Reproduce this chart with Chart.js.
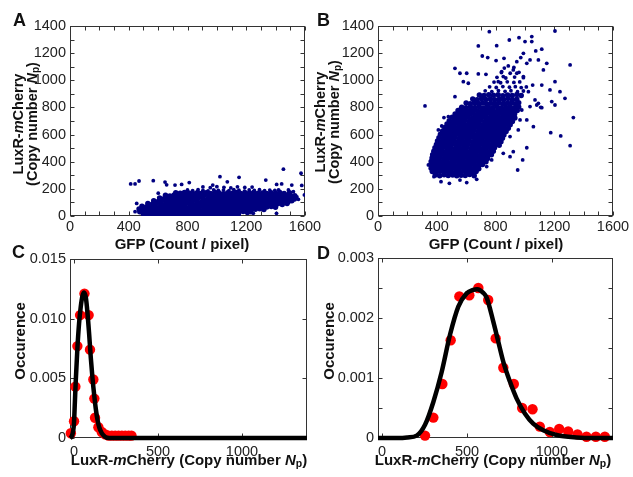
<!DOCTYPE html>
<html><head><meta charset="utf-8">
<script src="https://cdn.jsdelivr.net/npm/chart.js@4.4.1/dist/chart.umd.min.js"></script>
<style>
html,body{margin:0;padding:0;background:#fff;width:633px;height:477px;overflow:hidden;position:relative;font-family:"Liberation Sans",Arial,sans-serif;color:#111}
canvas{position:absolute;left:0;top:0}
.pl{position:absolute;font-weight:bold;font-size:18px;line-height:18px}
.yt{position:absolute;transform:translate(-50%,-50%) rotate(-90deg);white-space:nowrap;text-align:center;font-weight:bold;font-size:14.5px;line-height:13.5px}
.xt{position:absolute;transform:translate(-50%,-50%);white-space:nowrap;font-weight:bold;font-size:15px;line-height:17px}
sub{font-size:70%;line-height:0;vertical-align:-0.25em}
</style></head><body>
<canvas id="cA" width="633" height="477"></canvas>
<canvas id="cB" width="633" height="477"></canvas>
<canvas id="cC" width="633" height="477"></canvas>
<canvas id="cD" width="633" height="477"></canvas>

<div class="pl" style="left:13px;top:11px">A</div>
<div class="pl" style="left:317px;top:11px">B</div>
<div class="pl" style="left:12px;top:243px">C</div>
<div class="pl" style="left:317px;top:244px">D</div>

<div class="yt" style="left:25px;top:124px">LuxR-<i>m</i>Cherry<br>(Copy number <i>N</i><sub>p</sub>)</div>
<div class="yt" style="left:327px;top:122px">LuxR-<i>m</i>Cherry<br>(Copy number <i>N</i><sub>p</sub>)</div>
<div class="yt" style="left:20px;top:341px;font-size:15px">Occurence</div>
<div class="yt" style="left:329px;top:341px;font-size:15px">Occurence</div>

<div class="xt" style="left:182px;top:243px">GFP (Count / pixel)</div>
<div class="xt" style="left:496px;top:243px">GFP (Count / pixel)</div>
<div class="xt" style="left:189px;top:459px">LuxR-<i>m</i>Cherry (Copy number <i>N</i><sub>p</sub>)</div>
<div class="xt" style="left:493px;top:459px">LuxR-<i>m</i>Cherry (Copy number <i>N</i><sub>p</sub>)</div>

<script>
// ---------------- DATA ----------------
const scatterXLabels = [0, 400, 800, 1200, 1600];
const scatterYLabels = [0, 200, 400, 600, 800, 1000, 1200, 1400];
const histXLabels = [0, 500, 1000];
const histCYLabels = [0, 0.005, 0.010, 0.015];
const histDYLabels = [0, 0.001, 0.002, 0.003];

// Panel A: GFP vs LuxR-mCherry, dense body of cells
const scatterACore = [
[500,12],[530,7],[559,14],[588,9],[618,5],[647,13],[676,8],[706,11],[735,6],[764,15],[794,10],[823,4],[852,12],[882,8],[911,14],[940,6],[970,11],[999,9],[1028,13],[1058,7],[1087,10],[1116,5],[1146,12],
[475,32],[504,27],[533,34],[563,29],[592,25],[621,33],[651,28],[680,31],[709,26],[739,35],[768,30],[797,24],[827,32],[856,28],[885,34],[915,26],[944,31],[973,29],[1003,33],[1032,27],[1061,30],[1091,25],[1120,32],[1149,28],[1179,34],[1208,26],[1232,31],
[470,52],[499,47],[528,54],[558,49],[587,45],[616,53],[646,48],[675,51],[704,46],[734,55],[763,50],[792,44],[822,52],[851,48],[880,54],[910,46],[939,51],[968,49],[998,53],[1027,47],[1056,50],[1086,45],[1115,52],[1144,48],[1174,54],[1203,46],[1232,51],[1262,49],[1291,53],[1320,47],
[490,72],[519,67],[548,74],[578,69],[607,65],[636,73],[666,68],[695,71],[724,66],[754,75],[783,70],[812,64],[842,72],[871,68],[900,74],[930,66],[959,71],[988,69],[1018,73],[1047,67],[1076,70],[1106,65],[1135,72],[1164,68],[1194,74],[1223,66],[1252,71],[1282,69],[1311,73],[1340,67],[1370,70],[1399,65],
[530,92],[560,87],[589,94],[619,89],[648,85],[678,93],[707,88],[737,91],[766,86],[796,95],[825,90],[855,84],[884,92],[914,88],[943,94],[973,86],[1002,91],[1032,89],[1061,93],[1091,87],[1120,90],[1150,85],[1179,92],[1209,88],[1238,94],[1268,86],[1297,91],[1327,89],[1356,93],[1386,87],[1415,90],[1445,85],[1478,92],
[570,112],[600,107],[629,114],[659,109],[688,105],[718,113],[747,108],[777,111],[806,106],[836,115],[865,110],[895,104],[924,112],[954,108],[983,114],[1013,106],[1042,111],[1072,109],[1101,113],[1131,107],[1160,110],[1190,105],[1219,112],[1249,108],[1278,114],[1308,106],[1337,111],[1367,109],[1396,113],[1426,107],[1455,110],[1485,105],[1510,112],
[610,132],[640,127],[669,134],[699,129],[728,125],[758,133],[787,128],[817,131],[846,126],[876,135],[905,130],[935,124],[964,132],[994,128],[1023,134],[1053,126],[1082,131],[1112,129],[1141,133],[1171,127],[1200,130],[1230,125],[1259,132],[1289,128],[1318,134],[1348,126],[1377,131],[1407,129],[1436,133],[1466,127],[1495,130],[1528,125],
[650,152],[680,147],[709,154],[739,149],[768,145],[798,153],[827,148],[857,151],[886,146],[916,155],[945,150],[975,144],[1004,152],[1034,148],[1063,154],[1093,146],[1122,151],[1152,149],[1181,153],[1211,147],[1240,150],[1270,145],[1299,152],[1329,148],[1358,154],[1388,146],[1417,151],[1447,149],[1476,153],[1506,147],[1530,150],
[720,172],[750,167],[779,174],[809,169],[838,165],[868,173],[897,168],[927,171],[956,166],[986,175],[1015,170],[1045,164],[1074,172],[1104,168],[1133,174],[1163,166],[1192,171],[1222,169],[1251,173],[1281,167],[1310,170],[1340,165],[1369,172],[1399,168],[1428,174],[1458,166],[1495,171]
];
// Panel A: scattered cells around the body
const scatterASparse = [
[800,192],[835,187],[872,194],[905,189],[940,185],[978,193],[1010,188],[1045,191],[1082,186],[1115,195],[1150,190],[1188,184],[1220,192],[1255,188],[1290,194],[1325,186],[1360,191],[1395,189],[1420,193],
[905,214],[955,209],[1000,216],[1048,211],[1095,207],[1140,215],[1190,210],[1240,213],
[413,236],[443,236],[470,258],[567,260],[647,250],[658,230],[715,228],[760,233],[812,246],[972,228],[1021,290],[1071,252],[1151,285],[1333,265],[1407,233],[1441,236],[1453,345],[1510,228],[1573,315],[1578,225],[1487,192],[1521,179],[1596,155],[1555,123],[1521,123],[1545,140],[601,168],[454,93],[443,32],[1248,20],[1406,20]
];

// Panel B: GFP vs LuxR-mCherry, dense body of cells
const scatterBCore = [
[390,302],[420,297],[450,304],[478,299],[508,303],[536,296],[566,301],[594,298],[624,305],[655,297],
[370,327],[397,322],[424,329],[451,324],[478,328],[505,321],[532,326],[560,323],[587,330],[614,322],[641,325],[668,328],
[362,352],[389,347],[416,354],[443,349],[470,353],[497,346],[524,351],[551,348],[578,355],[605,347],[632,350],[659,353],[686,348],
[360,377],[387,372],[414,379],[441,374],[468,378],[495,371],[522,376],[549,373],[576,380],[603,372],[630,375],[657,378],[684,373],[711,379],
[362,402],[389,397],[416,404],[443,399],[470,403],[497,396],[524,401],[551,398],[578,405],[605,397],[632,400],[659,403],[686,398],[713,404],[735,399],
[368,427],[395,422],[422,429],[449,424],[476,428],[503,421],[530,426],[557,423],[584,430],[611,422],[638,425],[665,428],[692,423],[719,429],[746,424],
[372,452],[399,447],[426,454],[453,449],[480,453],[507,446],[534,451],[561,448],[588,455],[615,447],[642,450],[669,453],[696,448],[723,454],[750,449],[772,452],
[380,477],[407,472],[434,479],[461,474],[488,478],[515,471],[542,476],[569,473],[596,480],[623,472],[650,475],[677,478],[704,473],[731,479],[758,474],[785,477],
[388,502],[415,497],[442,504],[469,499],[496,503],[523,496],[550,501],[577,498],[604,505],[631,497],[658,500],[685,503],[712,498],[739,504],[766,499],[793,502],
[398,527],[425,522],[452,529],[479,524],[506,528],[533,521],[560,526],[587,523],[614,530],[641,522],[668,525],[695,528],[722,523],[749,529],[776,524],[803,527],[825,522],
[405,552],[432,547],[459,554],[486,549],[513,553],[540,546],[567,551],[594,548],[621,555],[648,547],[675,550],[702,553],[729,548],[756,554],[783,549],[810,552],[837,547],
[415,577],[442,572],[469,579],[496,574],[523,578],[550,571],[577,576],[604,573],[631,580],[658,572],[685,575],[712,578],[739,573],[766,579],[793,574],[820,577],[847,572],
[425,602],[452,597],[479,604],[506,599],[533,603],[560,596],[587,601],[614,598],[641,605],[668,597],[695,600],[722,603],[749,598],[776,604],[803,599],[830,602],[857,597],
[440,627],[467,622],[494,629],[521,624],[548,628],[575,621],[602,626],[629,623],[656,630],[683,622],[710,625],[737,628],[764,623],[791,629],[818,624],[845,627],[872,622],
[455,652],[482,647],[509,654],[536,649],[563,653],[590,646],[617,651],[644,648],[671,655],[698,647],[725,650],[752,653],[779,648],[806,654],[833,649],[860,652],[887,647],
[470,677],[497,672],[524,679],[551,674],[578,678],[605,671],[632,676],[659,673],[686,680],[713,672],[740,675],[767,678],[794,673],[821,679],[848,674],[875,677],[900,672],
[485,702],[512,697],[539,704],[566,699],[593,703],[620,696],[647,701],[674,698],[701,705],[728,697],[755,700],[782,703],[809,698],[836,704],[863,699],[890,702],[915,697],
[505,727],[532,722],[559,729],[586,724],[613,728],[640,721],[667,726],[694,723],[721,730],[748,722],[775,725],[802,728],[829,723],[856,729],[883,724],[910,727],[932,722],
[525,752],[552,747],[579,754],[606,749],[633,753],[660,746],[687,751],[714,748],[741,755],[768,747],[795,750],[822,753],[849,748],[876,754],[903,749],[930,752],
[545,777],[572,772],[599,779],[626,774],[653,778],[680,771],[707,776],[734,773],[761,780],[788,772],[815,775],[842,778],[869,773],[896,779],[923,774],[948,777],
[570,802],[600,797],[630,804],[660,799],[690,803],[720,796],[750,801],[780,798],[810,805],[840,797],[870,800],[900,803],[930,798],[958,804],
[600,832],[628,827],[656,834],[684,829],[712,833],[740,826],[768,831],[796,828],[824,835],[852,827],[880,830],[908,833],[936,828],[958,834],
[645,862],[675,857],[705,864],[735,859],[765,863],[795,856],[825,861],[855,858],[885,865],[915,857],[945,860],
[690,892],[722,887],[754,894],[786,889],[818,893],[850,886],[882,891],[914,888],[946,895],[975,887]
];
// Panel B: scattered cells around the body
const scatterBSparse = [
[730,922],[775,917],[820,924],[865,919],[905,923],[950,916],[990,921],
[760,952],[805,947],[850,954],[895,949],[935,953],[975,946],[1010,951],
[790,987],[835,982],[880,989],[925,984],[965,988],
[810,1022],[870,1017],[930,1024],[990,1019],
[840,1057],[900,1052],[960,1059],
[860,1090],[925,1095],
[320,811],[758,1358],[1205,1363],[1308,1113],[1330,725],[1308,518],[1244,590],[1176,614],[951,339],[985,413],[1013,503],[683,1253],[808,1255],[894,1297],[960,1314],[1001,1285],[1047,1322],[1047,1285],[990,1199],[1074,1216],[1115,1229],[710,1179],[747,1167],[804,1145],[858,1162],[524,1088],[558,1052],[604,1052],[683,1047],[735,1044],[1149,1125],[1205,990],[1126,1076],[1171,929],[1239,916],[1273,867],[1183,843],[1205,818],[1108,801],[1092,830],[1069,855],[1115,965],[1053,965],[1024,916],[581,990],[615,978],[524,879],[554,786],[449,725],[479,732],[411,634],[434,663],[343,376],[366,327],[381,290],[429,253],[486,241],[558,265],[604,246],[672,270],[740,364],[774,413],[853,462],[899,437],[921,474],[899,585],[955,634],[1013,708],[1058,658],[967,708],[979,781],[1035,806],[1081,818],[1115,798],[819,990],[853,1027],[945,1052],[990,1027],[921,1076],[887,1106],[842,1064],[945,1137],[1013,1125],[972,1167],[1035,1150],[1092,1150]
];

// Panel C: histogram (red) and fit (black)
const histCPointsX = [-19, 0, 8, 20, 36, 62, 87, 95, 115, 121, 125, 145, 165, 185, 205, 225, 245, 265, 285, 305, 325, 342];
const histCPointsY = [0.0004, 0.0014, 0.0043, 0.0077, 0.0103, 0.0121, 0.0103, 0.0074, 0.0049, 0.0033, 0.0017, 0.0009, 0.0005, 0.0003, 0.0002, 0.0002, 0.0002, 0.0002, 0.0002, 0.0002, 0.0002, 0.0002];
const histCCurveX = [-24, -15, -5, 0, 5, 10, 20, 30, 40, 50, 60, 70, 80, 90, 100, 110, 120, 130, 140, 150, 165, 185, 210, 300, 600, 1000, 1387];
const histCCurveY = [0, 0.0001, 0.0006, 0.0013, 0.0030, 0.0047, 0.0075, 0.0096, 0.0110, 0.0119, 0.0122, 0.0118, 0.0105, 0.0087, 0.0067, 0.0050, 0.0036, 0.0024, 0.0015, 0.0009, 0.0004, 0.0001, 0, 0, 0, 0, 0];

// Panel D: histogram (red) and fit (black)
const histDPointsX = [253, 302, 355, 404, 455, 514, 567, 625, 669, 714, 776, 825, 886, 929, 988, 1043, 1096, 1151, 1204, 1259, 1312];
const histDPointsY = [0.00004, 0.00034, 0.00090, 0.00163, 0.00236, 0.00238, 0.00250, 0.00230, 0.00166, 0.00117, 0.00090, 0.00050, 0.00048, 0.00019, 0.00010, 0.00015, 0.00011, 0.00006, 0.00002, 0.00002, 0.00002];
const histDCurveX = [-24, 100, 150, 204, 253, 302, 351, 400, 449, 498, 537, 560, 596, 616, 655, 684, 714, 753, 792, 841, 890, 949, 1028, 1145, 1250, 1360];
const histDCurveY = [0, 0, 0.00001, 0.00004, 0.00022, 0.00060, 0.00110, 0.00172, 0.00219, 0.00241, 0.00247, 0.00248, 0.00242, 0.00234, 0.00194, 0.00161, 0.00127, 0.00094, 0.00066, 0.00041, 0.00024, 0.00013, 0.00005, 0.00001, 0, 0];

// ---------------- RENDERING ----------------
const FONT = '"Liberation Sans", Arial, sans-serif';
const YW = 50, XH = 30;
const NAVY = 'rgb(0,0,128)';

function steps(a, b, s) { const r = []; for (let i = 0; a + i * s <= b + 1e-12; i++) r.push(+(a + i * s).toFixed(6)); return r; }

const frameTicks = {
  id: 'frameTicks',
  beforeDatasetsDraw(chart, args, opts) {
    const { ctx, chartArea: a } = chart;
    const sx = chart.scales.x, sy = chart.scales.y;
    const L = Math.round(a.left) + 0.5, R = Math.round(a.right) - 0.5;
    const T = Math.round(a.top) + 0.5, B = Math.round(a.bottom) - 0.5;
    ctx.save();
    ctx.strokeStyle = '#333';
    ctx.lineWidth = 1;
    ctx.beginPath();
    (opts.xMarks || []).forEach(v => {
      const p = Math.round(sx.getPixelForValue(v)) + 0.5;
      ctx.moveTo(p, B); ctx.lineTo(p, B - 4);
      ctx.moveTo(p, T); ctx.lineTo(p, T + 4);
    });
    (opts.yMarks || []).forEach(v => {
      const p = Math.round(sy.getPixelForValue(v)) + 0.5;
      ctx.moveTo(L, p); ctx.lineTo(L + 4, p);
      ctx.moveTo(R, p); ctx.lineTo(R - 4, p);
    });
    ctx.stroke();
    ctx.strokeRect(L, T, R - L, B - T);
    ctx.restore();
  }
};

function fmtHist(v) { return v === 0 ? '0' : v.toFixed(3); }

function build(id, box, xc, yc, datasets) {
  return new Chart(document.getElementById(id), {
    type: 'scatter',
    data: { datasets },
    options: {
      responsive: false, animation: false, events: [],
      layout: { padding: { left: box.left - YW, top: box.top, right: 633 - box.right, bottom: 477 - box.bottom - XH } },
      plugins: { legend: { display: false }, tooltip: { enabled: false }, frameTicks: { xMarks: xc.marks, yMarks: yc.marks } },
      scales: {
        x: {
          type: 'linear', min: xc.min, max: xc.max,
          grid: { display: false, drawTicks: false }, border: { display: false },
          ticks: { font: { family: FONT, size: 14.5 }, color: '#222', padding: xc.pad, maxRotation: 0, autoSkip: false, callback: xc.fmt },
          afterBuildTicks: s => { s.ticks = xc.labels.map(v => ({ value: v })); },
          afterFit: s => { s.height = XH; }
        },
        y: {
          type: 'linear', min: yc.min, max: yc.max,
          grid: { display: false, drawTicks: false }, border: { display: false },
          ticks: { font: { family: FONT, size: 14.5 }, color: '#222', padding: 4, autoSkip: false, callback: yc.fmt },
          afterBuildTicks: s => { s.ticks = yc.labels.map(v => ({ value: v })); },
          afterFit: s => { s.width = YW; }
        }
      }
    },
    plugins: [frameTicks]
  });
}

const toPts = arr => arr.map(p => ({ x: p[0], y: p[1] }));
const zipPts = (xs, ys) => xs.map((x, i) => ({ x, y: ys[i] }));
const plainFmt = v => String(v);

function scatterSets(core, sparse) {
  return [
    { label: 'body', data: toPts(core), pointRadius: 2.75, pointHoverRadius: 2.75, pointBackgroundColor: NAVY, pointBorderWidth: 0, showLine: false },
    { label: 'scattered', data: toPts(sparse), pointRadius: 1.9, pointHoverRadius: 1.9, pointBackgroundColor: NAVY, pointBorderWidth: 0, showLine: false }
  ];
}

build('cA', { left: 70, top: 26, right: 305, bottom: 216 },
  { min: 0, max: 1600, labels: scatterXLabels, marks: steps(0, 1600, 100), pad: 2, fmt: plainFmt },
  { min: 0, max: 1400, labels: scatterYLabels, marks: steps(0, 1400, 100), fmt: plainFmt },
  scatterSets(scatterACore, scatterASparse));

build('cB', { left: 378, top: 26, right: 613, bottom: 216 },
  { min: 0, max: 1600, labels: scatterXLabels, marks: steps(0, 1600, 100), pad: 2, fmt: plainFmt },
  { min: 0, max: 1400, labels: scatterYLabels, marks: steps(0, 1400, 100), fmt: plainFmt },
  scatterSets(scatterBCore, scatterBSparse));

function histSets(cx, cy, px, py) {
  return [
    { label: 'fit', data: zipPts(cx, cy), showLine: true, borderColor: '#000', borderWidth: 4.5, pointRadius: 0, cubicInterpolationMode: 'monotone', clip: false, fill: false },
    { label: 'data', data: zipPts(px, py), showLine: false, pointRadius: 5.2, pointHoverRadius: 5.2, pointBackgroundColor: '#ff0000', pointBorderWidth: 0, clip: false }
  ];
}

build('cC', { left: 70, top: 259, right: 307, bottom: 438 },
  { min: -24, max: 1387, labels: histXLabels, marks: histXLabels, pad: 5, fmt: plainFmt },
  { min: 0, max: 0.015, labels: histCYLabels, marks: histCYLabels, fmt: fmtHist },
  histSets(histCCurveX, histCCurveY, histCPointsX, histCPointsY));

build('cD', { left: 378, top: 258, right: 613, bottom: 438 },
  { min: -24, max: 1360, labels: histXLabels, marks: histXLabels, pad: 5, fmt: plainFmt },
  { min: 0, max: 0.003, labels: histDYLabels, marks: steps(0, 0.003, 0.0005), fmt: fmtHist },
  histSets(histDCurveX, histDCurveY, histDPointsX, histDPointsY));
</script>
</body></html>
